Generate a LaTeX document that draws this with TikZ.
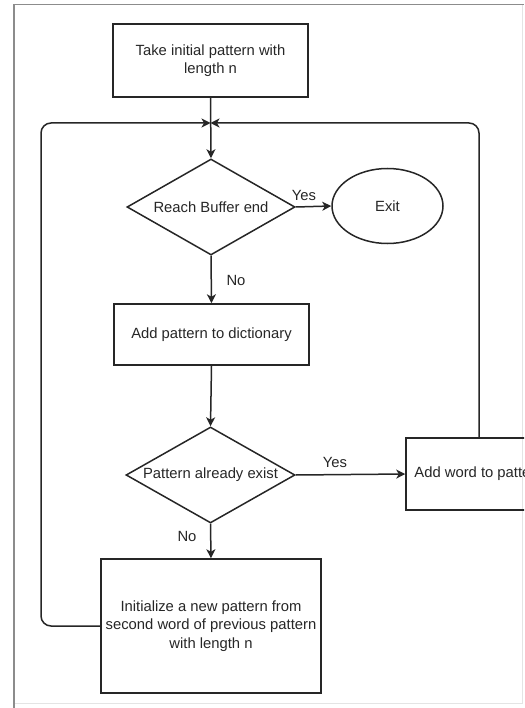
\documentclass[tikz,border=0pt]{standalone}
\usepackage{fontspec}
\setmainfont{Liberation Sans}
\usetikzlibrary{shapes.geometric,arrows.meta}
\definecolor{ink}{HTML}{262626}
\definecolor{framec}{HTML}{8C8C8C}
\definecolor{framelight}{HTML}{E4E4E4}
\tikzset{
  lab/.style={font=\fontsize{14.8}{18.5}\selectfont, text=ink},
  box/.style={lab, draw=ink, line width=1.5pt, rectangle, inner sep=0pt, align=center},
  dec/.style={lab, draw=ink, line width=1.5pt, diamond, inner sep=0pt, aspect=1.75},
  term/.style={lab, draw=ink, line width=1.5pt, ellipse, inner sep=0pt},
  flow/.style={draw=ink, line width=1.5pt, -{Stealth[length=9pt,width=9pt,inset=2.5pt]}},
  loopline/.style={flow, rounded corners=10pt}
}
\begin{document}
\begin{tikzpicture}[x=1pt,y=-1pt]
\useasboundingbox (0,0) rectangle (524,708);
\clip (0,0) rectangle (524,708);
% frame
\draw[framelight, line width=1pt] (522,4.5) -- (522,703) -- (14,703);
\draw[framec, line width=1.5pt] (14,708) -- (14,4.5) -- (524,4.5);
% nodes
\node[box, minimum width=195pt, minimum height=73pt] (start) at (210.5,60.5)
  {Take initial pattern with\\length n};
\node[dec, minimum width=168pt, minimum height=96pt] (buf) at (211,207) {Reach Buffer end};
\node[term, minimum width=111pt, minimum height=75pt] (exit) at (387.5,206) {Exit};
\node[box, minimum width=195pt, minimum height=61pt] (dict) at (211.5,334.5)
  {Add pattern to dictionary};
\node[dec, minimum width=169pt, minimum height=96pt] (exist) at (210.5,475) {Pattern already exist};
\node[box, minimum width=146pt, minimum height=72pt] (add) at (479,474) {Add word to pattern};
\node[box, minimum width=220pt, minimum height=134pt] (init) at (211,626)
  {Initialize a new pattern from\\second word of previous pattern\\with length n};
\coordinate (merge) at (210.5,123);
\coordinate (lc) at (41,123);
% connectors
\draw[flow] (start.south) -- (buf.north);
\draw[flow] (buf.east) -- (exit.west);
\draw[flow] (buf.south) -- (dict.north);
\draw[flow] (dict.south) -- (exist.north);
\draw[flow] (exist.east) -- (add.west);
\draw[flow] (exist.south) -- (init.north);
\draw[loopline] (init.west) -| (lc) -- (merge);
\draw[loopline] (add.north) |- (merge);
% labels
\node[lab] (y1) at (304,195) {Yes};
\node[lab] (n1) at (236,280) {No};
\node[lab] (y2) at (335,462) {Yes};
\node[lab] (n2) at (187,536) {No};
\end{tikzpicture}
\end{document}
